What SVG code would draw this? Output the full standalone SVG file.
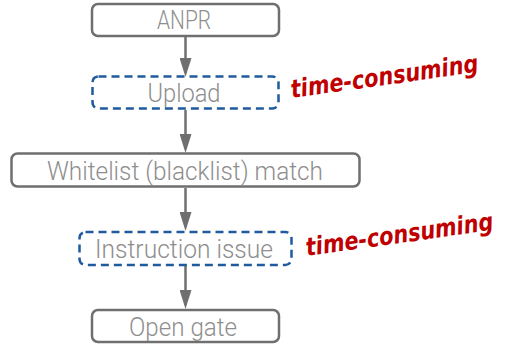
<svg xmlns="http://www.w3.org/2000/svg" width="505" height="346" viewBox="0 0 505 346">
<defs>
<style>
.box{fill:#fff;stroke:#6f6f70;stroke-width:2.5}
.dash{fill:#fff;stroke:#1f5b9e;stroke-width:2.5;stroke-dasharray:8 5}
.lbl{font-family:Roboto,"Liberation Sans",sans-serif;font-weight:300;font-size:25px;fill:#8e8e8e;text-anchor:middle}
.note{font-family:"DejaVu Sans","Liberation Sans",sans-serif;font-weight:bold;font-style:italic;font-size:25px;fill:#c00000}
.conn{stroke:#6f6f70;stroke-width:2.5;fill:none;marker-end:url(#ah)}
</style>
<marker id="ah" markerWidth="19" markerHeight="12" refX="15" refY="6" orient="auto" markerUnits="userSpaceOnUse" viewBox="0 0 19 12">
<path d="M0,0 L19,6 L0,12 Z" fill="#6f6f70"/>
</marker>
</defs>
<g id="connectors">
<line class="conn" x1="185.5" y1="37" x2="185.5" y2="73"/>
<line class="conn" x1="185.5" y1="110" x2="185.5" y2="149"/>
<line class="conn" x1="185.5" y1="188" x2="185.5" y2="227"/>
<line class="conn" x1="185.5" y1="266" x2="185.5" y2="305"/>
</g>
<g id="anpr">
<rect class="box" x="92" y="4" width="187" height="32" rx="6"/>
<text class="lbl" x="184" y="29" textLength="54" lengthAdjust="spacingAndGlyphs">ANPR</text>
</g>
<g id="upload">
<rect class="dash" x="92.5" y="76.5" width="186" height="32" rx="6"/>
<text class="lbl" x="184" y="102" textLength="73" lengthAdjust="spacingAndGlyphs">Upload</text>
</g>
<g id="whitelist">
<rect class="box" x="11.5" y="153.5" width="348" height="33" rx="6"/>
<text class="lbl" x="185" y="180" textLength="276" lengthAdjust="spacingAndGlyphs">Whitelist (blacklist) match</text>
</g>
<g id="instruction">
<rect class="dash" x="79.5" y="232" width="212" height="33" rx="6"/>
<text class="lbl" x="184" y="258" textLength="178" lengthAdjust="spacingAndGlyphs">Instruction issue</text>
</g>
<g id="opengate">
<rect class="box" x="92" y="310" width="187" height="32" rx="6"/>
<text class="lbl" x="183" y="336" textLength="108" lengthAdjust="spacingAndGlyphs">Open gate</text>
</g>
<g id="notes">
<text class="note" x="292" y="98" transform="rotate(-8 292 98)" textLength="189" lengthAdjust="spacingAndGlyphs">time-consuming</text>
<text class="note" x="307" y="256" transform="rotate(-8 307 256)" textLength="189" lengthAdjust="spacingAndGlyphs">time-consuming</text>
</g>
</svg>
